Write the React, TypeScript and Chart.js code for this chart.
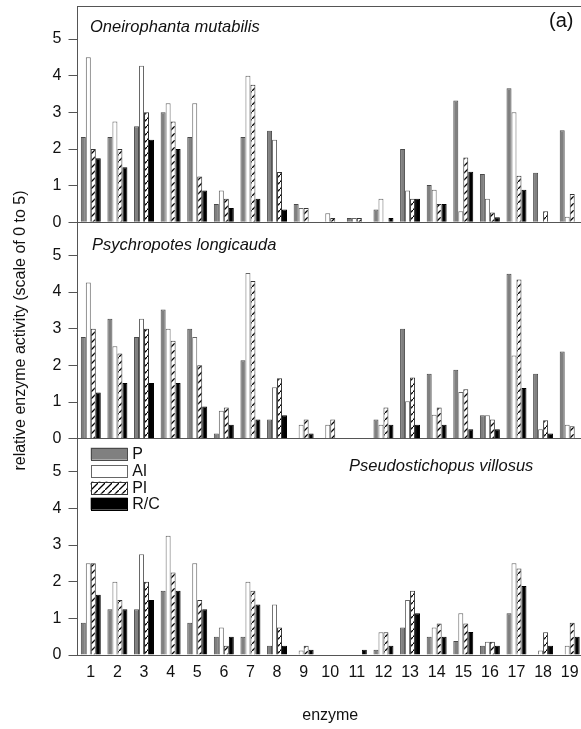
import React, { useEffect, useRef } from 'react';
import { Chart, registerables } from 'chart.js';

Chart.register(...registerables);

const FONT = '"Liberation Sans", Arial, sans-serif';

const enzymes = ['1', '2', '3', '4', '5', '6', '7', '8', '9', '10', '11', '12', '13', '14', '15', '16', '17', '18', '19'];
const seriesNames = ['P', 'AI', 'PI', 'R/C'];
const panelTitles = ['Oneirophanta mutabilis', 'Psychropotes longicauda', 'Pseudostichopus villosus'];
const yTickValues = [0, 1, 2, 3, 4, 5];
const yTitle = 'relative enzyme activity (scale of 0 to 5)';
const xTitle = 'enzyme';
const panelTag = '(a)';

// Oneirophanta mutabilis
const oneiroP = [2.33, 2.33, 2.62, 3.0, 2.33, 0.5, 2.33, 2.5, 0.5, 0, 0.12, 0.35, 2.0, 1.02, 3.32, 1.32, 3.66, 1.35, 2.51];
const oneiroAI = [4.5, 2.75, 4.27, 3.25, 3.25, 0.87, 4.0, 2.25, 0.39, 0.25, 0.12, 0.64, 0.87, 0.89, 0.3, 0.64, 3.0, 0, 0.15];
const oneiroPI = [2.0, 2.0, 3.0, 2.75, 1.25, 0.64, 3.75, 1.37, 0.39, 0.12, 0.12, 0, 0.64, 0.5, 1.77, 0.27, 1.27, 0.3, 0.77];
const oneiroRC = [1.75, 1.5, 2.25, 2.0, 0.87, 0.39, 0.64, 0.35, 0, 0, 0, 0.12, 0.64, 0.5, 1.38, 0.14, 0.89, 0, 0];

// Psychropotes longicauda
const psychroP = [2.77, 3.27, 2.77, 3.52, 3.0, 0.14, 2.14, 0.52, 0, 0, 0, 0.52, 3.0, 1.77, 1.88, 0.64, 4.5, 1.77, 2.38];
const psychroAI = [4.26, 2.52, 3.27, 3.0, 2.77, 0.76, 4.52, 1.4, 0.38, 0.38, 0, 0.38, 1.02, 0.65, 1.27, 0.64, 2.27, 0.26, 0.38];
const psychroPI = [3.0, 2.32, 3.0, 2.67, 2.0, 0.85, 4.3, 1.65, 0.52, 0.52, 0, 0.85, 1.67, 0.85, 1.35, 0.52, 4.34, 0.5, 0.34];
const psychroRC = [1.26, 1.52, 1.52, 1.52, 0.88, 0.38, 0.52, 0.64, 0.14, 0, 0, 0.38, 0.38, 0.38, 0.26, 0.26, 1.38, 0.14, 0];

// Pseudostichopus villosus
const pseudoP = [0.88, 1.25, 1.25, 1.75, 0.88, 0.5, 0.5, 0.25, 0, 0, 0, 0.14, 0.75, 0.5, 0.38, 0.25, 1.14, 0, 0];
const pseudoAI = [2.5, 2.0, 2.75, 3.25, 2.5, 0.75, 2.0, 1.38, 0.12, 0, 0, 0.62, 1.5, 0.75, 1.14, 0.36, 2.5, 0.12, 0.25];
const pseudoPI = [2.5, 1.5, 2.0, 2.25, 1.5, 0.25, 1.75, 0.75, 0.25, 0, 0, 0.62, 1.75, 0.86, 0.86, 0.36, 2.36, 0.62, 0.88];
const pseudoRC = [1.64, 1.25, 1.5, 1.75, 1.25, 0.5, 1.38, 0.25, 0.14, 0, 0.14, 0.25, 1.14, 0.5, 0.63, 0.25, 1.88, 0.25, 0.5];

const panelData = [
  [oneiroP, oneiroAI, oneiroPI, oneiroRC],
  [psychroP, psychroAI, psychroPI, psychroRC],
  [pseudoP, pseudoAI, pseudoPI, pseudoRC],
];

const axisIds = ['yTop', 'yMid', 'yBot'];
const LINE = '#555';
const TEXT = '#111';

function makeHatch(ctx: CanvasRenderingContext2D) {
  const s = 7;
  const pc = document.createElement('canvas');
  pc.width = s;
  pc.height = s;
  const g = pc.getContext('2d')!;
  g.fillStyle = '#fff';
  g.fillRect(0, 0, s, s);
  g.strokeStyle = '#000';
  g.lineWidth = 1.3;
  g.beginPath();
  g.moveTo(-1, s + 1);
  g.lineTo(s + 1, -1);
  g.moveTo(-2, 1);
  g.lineTo(1, -2);
  g.moveTo(s - 1, s + 2);
  g.lineTo(s + 2, s - 1);
  g.stroke();
  return ctx.createPattern(pc, 'repeat')!;
}

export default function App() {
  const ref = useRef<HTMLCanvasElement>(null);

  useEffect(() => {
    const canvas = ref.current!;
    const ctx = canvas.getContext('2d')!;
    const hatch = makeHatch(ctx);
    const fills = ['#808080', '#ffffff', hatch, '#000000'];
    const borders = ['#4a4a4a', '#666666', '#333333', '#000000'];

    const datasets: any[] = [];
    panelData.forEach((series, p) => {
      series.forEach((values, s) => {
        datasets.push({
          label: seriesNames[s],
          data: values,
          yAxisID: axisIds[p],
          stack: seriesNames[s],
          backgroundColor: fills[s],
          borderColor: borders[s],
          borderWidth: (c: any) => (c.raw === 0 ? 0 : 1),
          borderSkipped: 'start',
          categoryPercentage: 0.75,
          barPercentage: 1.0,
        });
      });
    });

    const yScale = () => ({
      type: 'linear',
      position: 'left',
      stack: 'panels',
      stackWeight: 1,
      stacked: false,
      min: 0,
      max: 5.9,
      afterFit: (s: any) => {
        s.width = 77.5;
        s.paddingTop = 0;
        s.paddingBottom = 0;
      },
      afterBuildTicks: (s: any) => {
        s.ticks = yTickValues.map((v) => ({ value: v }));
      },
      ticks: { font: { family: FONT, size: 16 }, color: TEXT, padding: 7, autoSkip: false },
      grid: {
        color: (c: any) => (c.tick && c.tick.value === 0 ? LINE : 'rgba(0,0,0,0)'),
        tickColor: LINE,
        tickLength: 9,
        lineWidth: 1,
      },
      border: { display: true, color: LINE, width: 1 },
    });

    const decor = {
      id: 'decor',
      afterDraw(chart: any) {
        const c = chart.ctx;
        const a = chart.chartArea;
        const top = chart.scales.yTop;
        const mid = chart.scales.yMid;
        const bot = chart.scales.yBot;
        c.save();
        // top frame line
        c.strokeStyle = LINE;
        c.lineWidth = 1;
        c.beginPath();
        c.moveTo(a.left, Math.round(a.top) + 0.5);
        c.lineTo(a.right, Math.round(a.top) + 0.5);
        c.stroke();

        // panel titles
        c.fillStyle = TEXT;
        c.font = `italic 16.5px ${FONT}`;
        c.textAlign = 'left';
        c.textBaseline = 'alphabetic';
        c.fillText(panelTitles[0], a.left + 12.5, top.top + 25.7);
        c.fillText(panelTitles[1], a.left + 14.5, mid.top + 28);
        c.fillText(panelTitles[2], 349, bot.top + 32.7);

        // (a)
        c.font = `20px ${FONT}`;
        c.fillText(panelTag, 549, 27);

        // legend
        const lx = a.left + 13.2;
        const tops = [9, 26, 43, 59];
        c.font = `16px ${FONT}`;
        c.textBaseline = 'middle';
        tops.forEach((t, i) => {
          const y = bot.top + t;
          c.fillStyle = fills[i];
          c.fillRect(lx, y, 37, 12);
          c.strokeStyle = borders[i];
          c.lineWidth = 1;
          c.strokeRect(Math.round(lx) + 0.5, Math.round(y) + 0.5, 36, 12);
          c.fillStyle = TEXT;
          c.fillText(seriesNames[i], lx + 41.5, y + 6.5);
        });

        // y title
        c.translate(21, (a.top + a.bottom) / 2);
        c.rotate(-Math.PI / 2);
        c.textAlign = 'center';
        c.textBaseline = 'middle';
        c.font = `16px ${FONT}`;
        c.fillStyle = TEXT;
        c.fillText(yTitle, 0, 0);
        c.restore();
      },
    };

    const chart = new Chart(canvas, {
      type: 'bar',
      data: { labels: enzymes, datasets },
      options: {
        animation: false,
        responsive: false,
        devicePixelRatio: 1,
        layout: { padding: { top: 6, right: 7, left: 0, bottom: 0 } },
        plugins: { legend: { display: false }, tooltip: { enabled: false } },
        scales: {
          x: {
            type: 'category',
            position: 'bottom',
            offset: true,
            afterFit: (s: any) => {
              s.height = 74;
              s.paddingLeft = 0;
              s.paddingRight = 0;
            },
            grid: { display: false, drawTicks: false },
            border: { display: true, color: LINE, width: 1 },
            ticks: { font: { family: FONT, size: 16 }, color: TEXT, padding: 8.4, maxRotation: 0, autoSkip: false },
            title: {
              display: true,
              text: xTitle,
              font: { family: FONT, size: 16 },
              color: TEXT,
              padding: { top: 0, bottom: 3.4 },
            },
          },
          yBot: yScale(),
          yMid: yScale(),
          yTop: yScale(),
        } as any,
      },
      plugins: [decor],
    });
    return () => chart.destroy();
  }, []);

  return (
    <div style={{ position: 'absolute', left: 0, top: 0, width: 581, height: 729, overflow: 'hidden', background: '#fff' }}>
      <canvas ref={ref} width={590} height={729} style={{ display: 'block', width: 590, height: 729 }} />
    </div>
  );
}
